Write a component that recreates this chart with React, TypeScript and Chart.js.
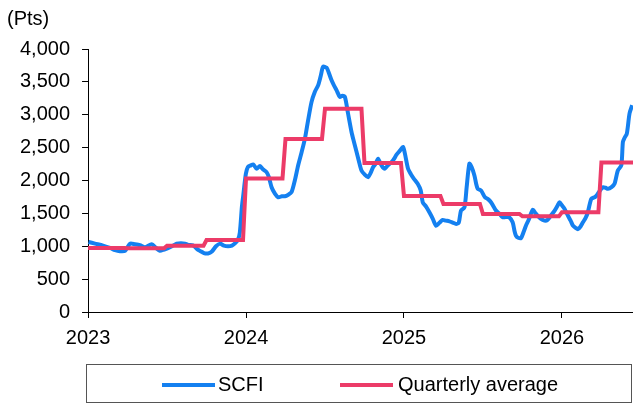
import React, { useEffect, useRef } from "react";
import { Chart, registerables } from "chart.js";

Chart.register(...registerables);

// SCFI weekly index (time in decimal years, value in points)
const scfiTime = [
  2023.003, 2023.044, 2023.095, 2023.139, 2023.171, 2023.202, 2023.234, 2023.266, 2023.297, 2023.329,
  2023.361, 2023.403, 2023.430, 2023.455, 2023.481, 2023.506, 2023.531, 2023.561, 2023.588, 2023.614,
  2023.639, 2023.664, 2023.689, 2023.708, 2023.734, 2023.759, 2023.784, 2023.810, 2023.835, 2023.860,
  2023.886, 2023.911, 2023.930, 2023.949, 2023.961, 2023.974, 2023.982, 2023.999, 2024.012, 2024.031,
  2024.046, 2024.067, 2024.088, 2024.107, 2024.130, 2024.145, 2024.162, 2024.183, 2024.204, 2024.227,
  2024.246, 2024.265, 2024.288, 2024.309, 2024.330, 2024.352, 2024.373, 2024.392, 2024.415, 2024.436,
  2024.457, 2024.474, 2024.488, 2024.510, 2024.524, 2024.541, 2024.556, 2024.573, 2024.594, 2024.610,
  2024.626, 2024.646, 2024.668, 2024.682, 2024.700, 2024.714, 2024.731, 2024.752, 2024.773, 2024.790,
  2024.805, 2024.822, 2024.836, 2024.853, 2024.866, 2024.879, 2024.898, 2024.921, 2024.935, 2024.953,
  2024.973, 2024.994, 2025.005, 2025.026, 2025.043, 2025.062, 2025.087, 2025.106, 2025.119, 2025.141,
  2025.161, 2025.182, 2025.203, 2025.226, 2025.245, 2025.264, 2025.288, 2025.309, 2025.330, 2025.347,
  2025.361, 2025.383, 2025.397, 2025.414, 2025.429, 2025.446, 2025.457, 2025.467, 2025.488, 2025.513,
  2025.530, 2025.551, 2025.568, 2025.583, 2025.606, 2025.625, 2025.644, 2025.667, 2025.688, 2025.701,
  2025.709, 2025.723, 2025.741, 2025.758, 2025.772, 2025.789, 2025.815, 2025.830, 2025.846, 2025.865,
  2025.889, 2025.909, 2025.930, 2025.954, 2025.973, 2025.985, 2026.001, 2026.017, 2026.038, 2026.055,
  2026.070, 2026.087, 2026.101, 2026.118, 2026.133, 2026.150, 2026.164, 2026.186, 2026.207, 2026.219,
  2026.234, 2026.259, 2026.276, 2026.291, 2026.314, 2026.333, 2026.354, 2026.376, 2026.386, 2026.397,
  2026.411, 2026.428, 2026.445,
];
const scfiValue = [
  1065, 1040, 1010, 975, 940, 925, 930, 1040, 1030, 1015,
  985, 1030, 975, 930, 950, 970, 1000, 1040, 1045, 1040,
  1020, 1015, 960, 930, 895, 890, 920, 1000, 1040, 1010,
  1000, 1010, 1043, 1100, 1211, 1600, 1760, 2100, 2204, 2230,
  2245, 2180, 2219, 2170, 2127, 2050, 1898, 1800, 1745, 1760,
  1761, 1780, 1822, 2000, 2229, 2430, 2637, 2900, 3196, 3350,
  3451, 3600, 3730, 3715, 3640, 3527, 3450, 3375, 3272, 3290,
  3272, 3019, 2738, 2600, 2433, 2300, 2153, 2090, 2051, 2120,
  2204, 2260, 2332, 2250, 2200, 2179, 2230, 2280, 2320, 2393,
  2450, 2510, 2420, 2179, 2100, 2030, 1950, 1850, 1669, 1600,
  1516, 1420, 1313, 1360, 1400, 1390, 1379, 1360, 1339, 1360,
  1542, 1593, 1900, 2255, 2200, 2077, 1950, 1873, 1848, 1745,
  1720, 1669, 1600, 1542, 1490, 1440, 1445, 1440, 1364, 1220,
  1160, 1130, 1125, 1220, 1313, 1400, 1553, 1510, 1466, 1420,
  1390, 1400, 1466, 1542, 1620, 1669, 1620, 1568, 1466, 1390,
  1313, 1280, 1260, 1300, 1364, 1430, 1516, 1721, 1745, 1770,
  1822, 1898, 1890, 1873, 1900, 1950, 2153, 2229, 2585, 2650,
  2713, 3019, 3145,
];

// Quarterly averages
const quarterStart = [
  2023.0, 2023.25, 2023.5, 2023.75,
  2024.0, 2024.25, 2024.5, 2024.75,
  2025.0, 2025.25, 2025.5, 2025.75,
  2026.0, 2026.25,
];
const quarterlyAverage = [
  975, 970, 1008, 1095,
  2030, 2632, 3090, 2267,
  1765, 1644, 1491, 1455,
  1516, 2272,
];

const xTickYears = [2023, 2024, 2025, 2026];
const xMin = 2023;
const xMax = 2026.45;
const yTicks = [0, 500, 1000, 1500, 2000, 2500, 3000, 3500, 4000];

const FONT = "'Liberation Sans', Arial, sans-serif";
const BLUE = "#1480f0";
const RED = "#ec3b68";

export default function App() {
  const ref = useRef<HTMLCanvasElement | null>(null);

  useEffect(() => {
    document.body.style.margin = "0";
    const canvas = ref.current;
    if (!canvas) return;

    const scfiData = scfiTime.map((t, i) => ({ x: t, y: scfiValue[i] }));
    const avgData: { x: number; y: number }[] = [];
    quarterStart.forEach((s, i) => {
      const end = i + 1 < quarterStart.length ? quarterStart[i + 1] - 0.019 : xMax + 0.05;
      avgData.push({ x: s, y: quarterlyAverage[i] });
      avgData.push({ x: end, y: quarterlyAverage[i] });
    });

    const overlay = {
      id: "overlay",
      afterDraw(chart: any) {
        const ctx = chart.ctx as CanvasRenderingContext2D;
        ctx.save();
        ctx.font = `20px ${FONT}`;
        ctx.fillStyle = "#000";
        ctx.textBaseline = "alphabetic";
        ctx.textAlign = "left";
        ctx.fillText("(Pts)", 7, 25);

        // legend box
        ctx.strokeStyle = "#555";
        ctx.lineWidth = 1;
        ctx.strokeRect(86.5, 364.5, 545, 38);

        const ly = 385;
        ctx.lineWidth = 4;
        ctx.lineCap = "butt";
        ctx.strokeStyle = BLUE;
        ctx.beginPath();
        ctx.moveTo(162, ly);
        ctx.lineTo(215, ly);
        ctx.stroke();
        ctx.strokeStyle = RED;
        ctx.beginPath();
        ctx.moveTo(340, ly);
        ctx.lineTo(393, ly);
        ctx.stroke();

        ctx.fillStyle = "#000";
        ctx.textBaseline = "middle";
        ctx.fillText("SCFI", 218, ly);
        ctx.fillText("Quarterly average", 398, ly);
        ctx.restore();
      },
    };

    const chart = new Chart(canvas, {
      type: "line",
      data: {
        datasets: [
          {
            label: "SCFI",
            data: scfiData,
            borderColor: BLUE,
            borderWidth: 4,
            pointRadius: 0,
            tension: 0.25,
            fill: false,
            order: 2,
          },
          {
            label: "Quarterly average",
            data: avgData,
            borderColor: RED,
            borderWidth: 4,
            pointRadius: 0,
            tension: 0,
            fill: false,
            order: 1,
          },
        ],
      },
      options: {
        animation: false,
        responsive: false,
        devicePixelRatio: 1,
        layout: { padding: { left: 8, top: 49, right: 0, bottom: 46 } },
        plugins: {
          legend: { display: false },
          tooltip: { enabled: false },
        },
        scales: {
          x: {
            type: "linear",
            min: xMin,
            max: xMax,
            afterBuildTicks: (scale: any) => {
              scale.ticks = xTickYears.map((v) => ({ value: v }));
            },
            ticks: {
              color: "#000",
              font: { family: FONT, size: 20 },
              padding: 8,
              maxRotation: 0,
              callback: (v: any) => String(v),
            },
            grid: { drawOnChartArea: false, drawTicks: true, tickLength: 6, color: "#000" },
            border: { display: true, color: "#000", width: 1 },
          },
          y: {
            type: "linear",
            min: 0,
            max: 4000,
            afterBuildTicks: (scale: any) => {
              scale.ticks = yTicks.map((v) => ({ value: v }));
            },
            ticks: {
              color: "#000",
              font: { family: FONT, size: 20 },
              padding: 12,
              callback: (v: any) => Number(v).toLocaleString("en-US"),
            },
            grid: { drawOnChartArea: false, drawTicks: true, tickLength: 6, color: "#000" },
            border: { display: true, color: "#000", width: 1 },
          },
        },
      },
      plugins: [overlay],
    });

    return () => chart.destroy();
  }, []);

  return (
    <div style={{ width: 633, height: 404, position: "relative" }}>
      <canvas ref={ref} width={633} height={404} style={{ display: "block" }} />
    </div>
  );
}
